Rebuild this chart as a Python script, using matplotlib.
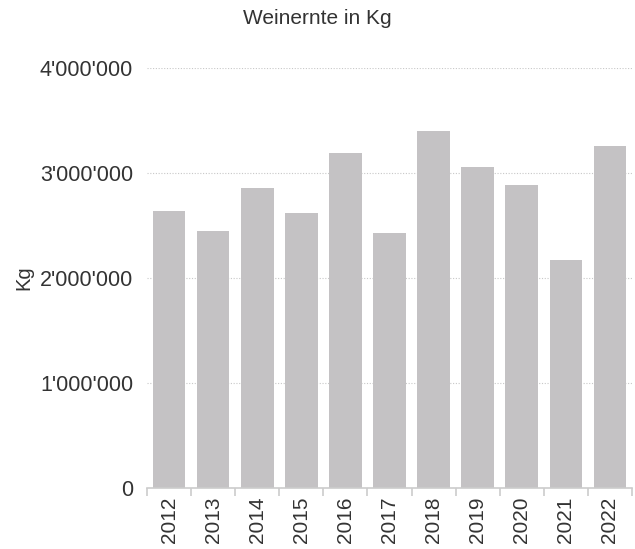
import matplotlib
matplotlib.use("Agg")
import matplotlib.pyplot as plt
from matplotlib.ticker import FuncFormatter, FixedLocator
import numpy as np

years = ["2012", "2013", "2014", "2015", "2016", "2017", "2018", "2019", "2020", "2021", "2022"]
harvest_kg = [2638000, 2448000, 2857000, 2619000, 3190000, 2429000, 3400000, 3057000, 2886000, 2171000, 3257000]
y_ticks = [0, 1000000, 2000000, 3000000, 4000000]

plt.rcParams['font.family'] = ['Liberation Sans', 'DejaVu Sans']
text_color = '#333333'

fig = plt.figure(figsize=(6.35, 5.49), dpi=100)
ax = fig.add_axes([147/635, 1-488/549, (632-147)/635, (488-68)/549])

x = np.arange(len(years))
ax.bar(x, harvest_kg, width=0.74, color='#c4c2c4', zorder=2)

ax.set_xlim(-0.5, len(years) - 0.5)
ax.set_ylim(0, 4000000)
ax.set_yticks(y_ticks)
ax.yaxis.set_major_formatter(FuncFormatter(lambda v, p: '{:,}'.format(int(v)).replace(',', "'")))
ax.grid(axis='y', linestyle=(0, (1, 1.5)), color='#c8c8c8', linewidth=0.8, zorder=0)
ax.set_xticks(x)
ax.set_xticklabels(years, rotation=90)
ax.xaxis.set_minor_locator(FixedLocator(np.arange(-0.5, len(years), 1.0)))

for s in ['top', 'right', 'left']:
    ax.spines[s].set_visible(False)
ax.spines['bottom'].set_color('#cccccc')
ax.spines['bottom'].set_linewidth(1.2)

ax.tick_params(axis='y', length=0, pad=10, labelsize=15.5, labelcolor=text_color)
ax.tick_params(axis='x', which='major', length=0, pad=6, labelsize=15, labelcolor=text_color)
ax.tick_params(axis='x', which='minor', length=6, width=1.2, color='#cccccc')

ax.set_ylabel('Kg', fontsize=14.5, color=text_color, labelpad=5)
fig.text(0.5, 1-19/549, 'Weinernte in Kg', ha='center', va='center', fontsize=15, color=text_color)

fig.savefig('out.png', dpi=100)
